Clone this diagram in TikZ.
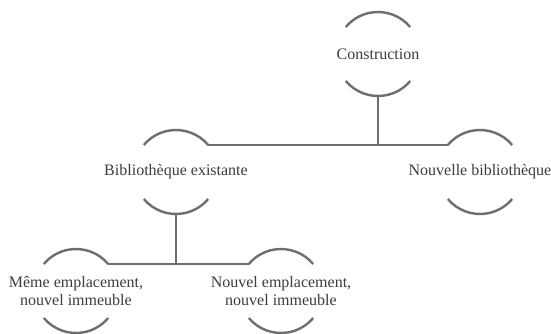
\documentclass[tikz,border=0pt]{standalone}
\usepackage{fontspec}
\setmainfont{Liberation Serif}
\definecolor{linegray}{RGB}{110,110,110}
\definecolor{textgray}{RGB}{60,60,60}
\begin{document}
\begin{tikzpicture}[x=1pt, y=1pt, line width=2.4pt, draw=linegray,
  main node/.style={circle,minimum size=84pt,inner sep=0pt,outer sep=0pt},
  label node/.style={align=center,text=textgray,font=\fontsize{16}{18}\selectfont}]
\useasboundingbox (0,0) rectangle (551,-333);
\begin{scope}
\node[main node] (con) at (378,-54) {};
\node[main node] (bib) at (176,-172) {};
\node[main node] (nou) at (480,-172) {};
\node[main node] (mem) at (76,-291) {};
\node[main node] (nel) at (281,-291) {};
\end{scope}
\begin{scope}[every node/.style={label node}]
\node (con text) at (con) {Construction};
\node (bib text) at (bib) {Bibliothèque existante};
\node (nou text) at (nou) {Nouvelle bibliothèque};
\node (mem text) at (mem) {Même emplacement,\\nouvel immeuble};
\node (nel text) at (nel) {Nouvel emplacement,\\nouvel immeuble};
\end{scope}
\begin{scope}[draw=linegray]
\foreach \n in {con,bib,nou,mem,nel}{
  \draw (\n.40) arc (40:140:42);
  \draw (\n.220) arc (220:320:42);
}
\draw (con.south) -- (con.south |- bib.40);
\draw (bib.40) -- (nou.140);
\draw (bib.south) -- (bib.south |- mem.40);
\draw (mem.40) -- (nel.140);
\end{scope}
\end{tikzpicture}
\end{document}
